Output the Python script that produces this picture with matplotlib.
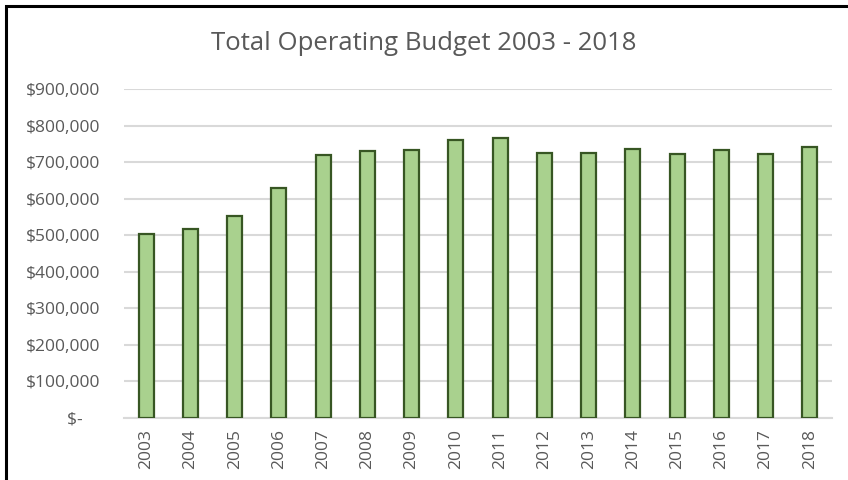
import numpy as np
import matplotlib.pyplot as plt
from matplotlib.patches import Rectangle
from matplotlib.ticker import FuncFormatter

plt.rcParams["font.family"] = ["Open Sans", "DejaVu Sans"]

years = [str(y) for y in range(2003, 2019)]
budget = [502000, 516000, 553000, 630000, 718000, 731000, 734000, 761000,
          766000, 726000, 726000, 735000, 723000, 732000, 723000, 740000]

TEXT_GRAY = "#595959"


def money(v, pos):
    if v == 0:
        return "$-    "
    return f"${v:,.0f}"


fig = plt.figure(figsize=(8.48, 4.8), dpi=100)
ax = fig.add_axes([124 / 848, 1 - 417.7 / 480, 708 / 848, (417.7 - 89) / 480])

x = np.arange(len(years))
ax.bar(x, budget, width=0.34, color="#a9d18e", edgecolor="#375623",
       linewidth=1.6, zorder=3)

ax.set_xlim(-0.5, len(years) - 0.5)
ax.set_ylim(0, 900000)
ax.set_yticks(np.arange(0, 900001, 100000))
ax.yaxis.set_major_formatter(FuncFormatter(money))
ax.set_xticks(x)
ax.set_xticklabels(years, rotation=90)

ax.grid(axis="y", color="#d9d9d9", linewidth=1.5, zorder=0)
for s in ["top", "right", "left"]:
    ax.spines[s].set_visible(False)
ax.spines["bottom"].set_color("#d9d9d9")
ax.spines["bottom"].set_linewidth(1.5)
ax.tick_params(length=0, labelsize=12.5, labelcolor=TEXT_GRAY)
ax.tick_params(axis="y", pad=17)
ax.tick_params(axis="x", pad=8)

fig.text(0.5, 1 - 43 / 480, "Total Operating Budget 2003 - 2018",
         ha="center", va="center", fontsize=18.5, color=TEXT_GRAY)

# black frame around the chart (top/left visible, rest cropped off)
fig.patches.append(Rectangle((6 / 848, -0.1), 1.2, 1 - 6 / 480 + 0.1,
                             transform=fig.transFigure, fill=False,
                             edgecolor="black", linewidth=2.2))

fig.savefig("out.png", dpi=100)
